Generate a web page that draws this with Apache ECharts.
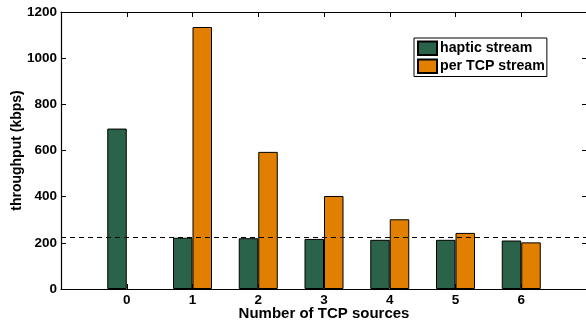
<!DOCTYPE html>
<html><head><meta charset="utf-8">
<script src="https://cdn.jsdelivr.net/npm/echarts@6/dist/echarts.min.js"></script>
<style>html,body{margin:0;padding:0;background:#fff}#c{width:586px;height:320px}</style>
</head><body><div id="c"></div>
<script>
const categories = [0, 1, 2, 3, 4, 5, 6];
const hapticStream = [695, 222, 220, 217, 213, 213, 210];
const perTcpStream = ['-', 1135, 594, 403, 302, 243, 202];
const referenceLine = 224;
const yTicks = [0, 200, 400, 600, 800, 1000, 1200];

const font = 'Liberation Sans, Arial, Helvetica, sans-serif';
const chart = echarts.init(document.getElementById('c'));
const hidden = v => (v < categories[0] || v > categories[categories.length - 1]) ? '' : String(v);
chart.setOption({
  animation: false,
  grid: {left: 61, top: 12, width: 526, height: 277, containLabel: false, outerBoundsMode: 'none'},
  legend: {
    left: 414, top: 38, orient: 'vertical', itemWidth: 19, itemHeight: 13.5, itemGap: 2.5,
    icon: 'rect',
    padding: [2.5, 2, 2.5, 3], borderColor: '#000', borderWidth: 1, backgroundColor: '#fff',
    textStyle: {fontFamily: font, fontWeight: 'bold', fontSize: 14.2, lineHeight: 14, color: '#000', padding: [0, 0, 0, -2]},
    data: ['haptic stream', 'per TCP stream']
  },
  xAxis: [
    {type: 'value', min: -1, max: 7, interval: 1, position: 'bottom',
     name: 'Number of TCP sources', nameLocation: 'middle', nameGap: 17, nameMoveOverlap: false,
     nameTextStyle: {fontFamily: font, fontWeight: 'bold', fontSize: 15, color: '#000'},
     axisLine: {show: true, onZero: false, lineStyle: {color: '#000', width: 1.2}},
     axisTick: {show: true, inside: true, length: 5, lineStyle: {color: '#000'}},
     axisLabel: {formatter: hidden, fontFamily: font, fontWeight: 'bold', fontSize: 13.5, color: '#000', margin: 4},
     splitLine: {show: false}},
    {type: 'value', min: -1, max: 7, interval: 1, position: 'top',
     axisLine: {show: true, onZero: false, lineStyle: {color: '#000', width: 1.2}},
     axisTick: {show: true, inside: true, length: 5, lineStyle: {color: '#000'}},
     axisLabel: {show: false}, splitLine: {show: false}}
  ],
  yAxis: [
    {type: 'value', min: yTicks[0], max: yTicks[yTicks.length - 1], interval: 200,
     name: 'throughput (kbps)', nameLocation: 'middle', nameGap: 37, nameRotate: 90, nameMoveOverlap: false,
     nameTextStyle: {fontFamily: font, fontWeight: 'bold', fontSize: 14, color: '#000'},
     axisLine: {show: true, onZero: false, lineStyle: {color: '#000', width: 1.2}},
     axisTick: {show: true, inside: true, length: 5, lineStyle: {color: '#000'}},
     axisLabel: {formatter: v => String(v), fontFamily: font, fontWeight: 'bold', fontSize: 13.5, color: '#000', margin: 4},
     splitLine: {show: false}},
    {type: 'value', min: yTicks[0], max: yTicks[yTicks.length - 1], interval: 200, position: 'right',
     axisLine: {show: true, onZero: false, lineStyle: {color: '#000', width: 1.2}},
     axisTick: {show: true, inside: true, length: 5, lineStyle: {color: '#000'}},
     axisLabel: {show: false}, splitLine: {show: false}}
  ],
  series: [
    {name: 'haptic stream', type: 'bar', barWidth: 19.5, barGap: '0%',
     itemStyle: {color: '#2b634a', borderColor: '#000', borderWidth: 1},
     data: categories.map((c, i) => [c, hapticStream[i]]),
     markLine: {silent: true, symbol: 'none', label: {show: false},
       lineStyle: {color: '#000', type: [5, 4], width: 1.2},
       data: [{yAxis: referenceLine}]}},
    {name: 'per TCP stream', type: 'bar', barWidth: 19.5, barGap: '0%',
     itemStyle: {color: '#e07f00', borderColor: '#000', borderWidth: 1},
     data: categories.map((c, i) => [c, perTcpStream[i]])}
  ]
});
</script></body></html>
